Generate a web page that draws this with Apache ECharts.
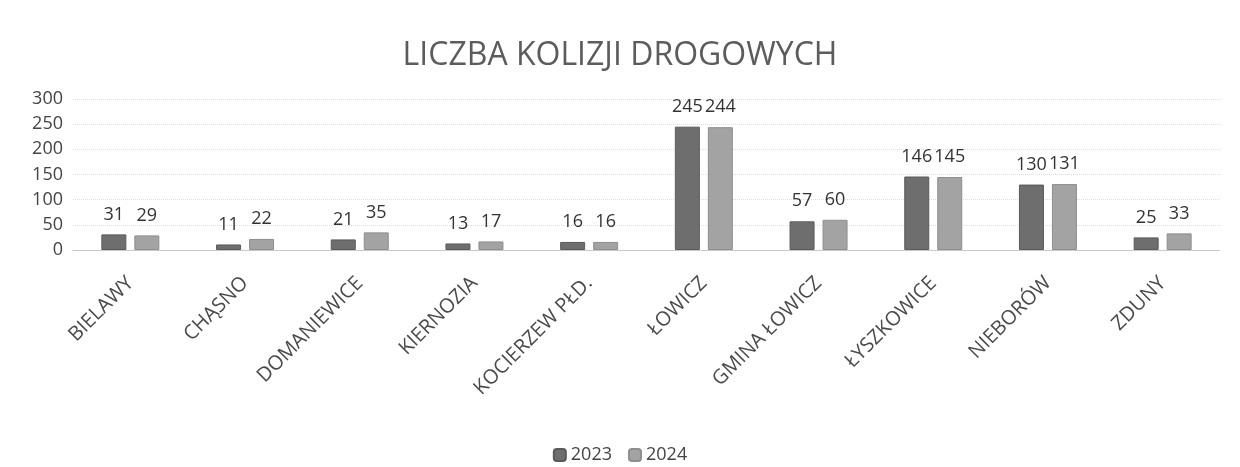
<!DOCTYPE html>
<html>
<head>
<meta charset="utf-8">
<script src="https://cdn.jsdelivr.net/npm/echarts@6/dist/echarts.min.js"></script>
<style>
  html, body { margin: 0; padding: 0; background: #fff; }
  #chart { width: 1240px; height: 467px; }
</style>
</head>
<body>
<div id="chart"></div>
<script>
// dane
const categories = ['BIELAWY', 'CHĄSNO', 'DOMANIEWICE', 'KIERNOZIA', 'KOCIERZEW PŁD.', 'ŁOWICZ', 'GMINA ŁOWICZ', 'ŁYSZKOWICE', 'NIEBORÓW', 'ZDUNY']
const data2023 = [31, 11, 21, 13, 16, 245, 57, 146, 130, 25]
const data2024 = [29, 22, 35, 17, 16, 244, 60, 145, 131, 33]
const yTicks = [0, 50, 100, 150, 200, 250, 300]

const font = '"Open Sans", "Noto Sans", sans-serif'

let myEchart = echarts.init(document.getElementById('chart'))

function barLabel() {
  return {
    show: true,
    position: 'top',
    distance: 11,
    fontSize: 18,
    fontFamily: font,
    color: '#333'
  }
}

myEchart.setOption({
  backgroundColor: '#fff',
  animation: false,
  title: {
    text: 'LICZBA KOLIZJI DROGOWYCH',
    left: 'center',
    top: 35,
    textStyle: {
      fontFamily: font,
      fontWeight: 'normal',
      fontSize: 32,
      color: '#5c5c5c'
    }
  },
  legend: {
    data: ['2023', '2024'],
    bottom: -2,
    left: 'center',
    itemWidth: 12,
    itemHeight: 12,
    itemGap: 16,
    textStyle: { fontFamily: font, fontSize: 18, color: '#444' }
  },
  grid: {
    left: 73,
    right: 20,
    top: 99,
    bottom: 217
  },
  xAxis: {
    type: 'category',
    data: categories,
    axisTick: { show: false },
    axisLine: { lineStyle: { color: '#c8c8c8' } },
    axisLabel: {
      rotate: 45,
      interval: 0,
      margin: 30,
      fontSize: 20,
      fontFamily: font,
      color: '#4a4a4a'
    }
  },
  yAxis: {
    type: 'value',
    min: yTicks[0],
    max: yTicks[yTicks.length - 1],
    interval: 50,
    axisLine: { show: false },
    axisTick: { show: false },
    axisLabel: { fontSize: 18, fontFamily: font, color: '#444', margin: 10 },
    splitLine: { lineStyle: { color: '#dedede', type: 'dotted' } }
  },
  series: [
    {
      name: '2023',
      type: 'bar',
      barWidth: 25,
      barGap: '32%',
      itemStyle: { color: '#6e6e6e', borderColor: '#5a5a5a', borderWidth: 1 },
      label: barLabel(),
      data: data2023
    },
    {
      name: '2024',
      type: 'bar',
      barWidth: 25,
      itemStyle: { color: '#a3a3a3', borderColor: '#8e8e8e', borderWidth: 1 },
      label: barLabel(),
      data: data2024
    }
  ]
})
</script>
</body>
</html>
